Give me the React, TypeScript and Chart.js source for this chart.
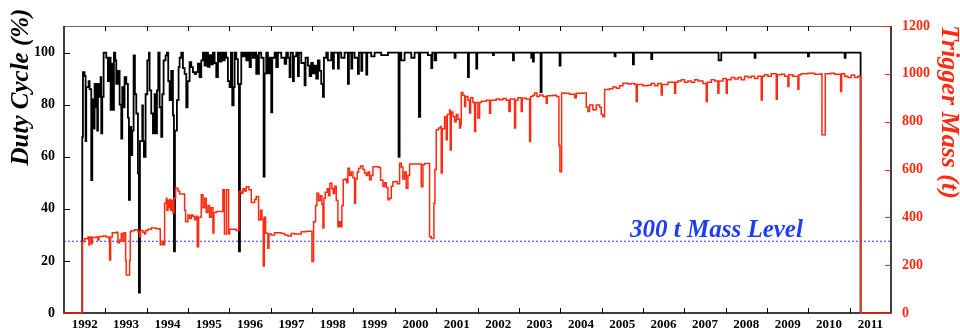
import React, { useEffect, useRef } from 'react';
import { Chart, registerables } from 'chart.js';

Chart.register(...registerables);

const FONT = '"Liberation Serif", "Times New Roman", serif';
const RED = '#ff2a10';
const BLUE = '#1f3cf8';

const yearLabels = [1992, 1993, 1994, 1995, 1996, 1997, 1998, 1999, 2000, 2001, 2002, 2003, 2004, 2005, 2006, 2007, 2008, 2009, 2010, 2011];
const yearTicks = [1993, 1994, 1995, 1996, 1997, 1998, 1999, 2000, 2001, 2002, 2003, 2004, 2005, 2006, 2007, 2008, 2009, 2010, 2011];
const dutyTicks = [0, 20, 40, 60, 80, 100];
const massTicks = [0, 200, 400, 600, 800, 1000, 1200];
const massLevel = 300;
const massLevelLabel = '300 t Mass Level';
const dutyTitle = 'Duty Cycle (%)';
const massTitle = 'Trigger Mass (t)';

// [year, duty cycle %]
const dutyCycle: [number, number][] = [
  [1992.0, 0], [1992.442, 67.6], [1992.458, 92.5], [1992.498, 91], [1992.522, 66], [1992.538, 86.7],
  [1992.595, 89], [1992.619, 86], [1992.659, 51], [1992.684, 82], [1992.724, 70.8], [1992.74, 88],
  [1992.78, 79], [1992.804, 70], [1992.821, 88], [1992.861, 83], [1992.885, 90.6], [1992.901, 69],
  [1992.925, 83], [1992.958, 100], [1993.022, 98], [1993.062, 89], [1993.103, 98], [1993.127, 78],
  [1993.151, 95.7], [1993.183, 78], [1993.208, 100], [1993.24, 97], [1993.264, 88], [1993.304, 93],
  [1993.345, 80], [1993.385, 67], [1993.409, 86.7], [1993.441, 79], [1993.465, 90.6], [1993.506, 88],
  [1993.546, 75], [1993.57, 43.4], [1993.595, 71.5], [1993.627, 60.6], [1993.651, 70], [1993.683, 98.9],
  [1993.715, 84], [1993.748, 76.6], [1993.788, 53.6], [1993.812, 7.8], [1993.836, 66], [1993.893, 79.7],
  [1993.909, 66], [1993.933, 60], [1993.973, 84], [1994.014, 97], [1994.054, 100], [1994.07, 85.5],
  [1994.11, 76.6], [1994.151, 69], [1994.191, 84], [1994.215, 69], [1994.248, 85.5], [1994.28, 100],
  [1994.312, 79], [1994.352, 67.6], [1994.376, 84], [1994.409, 97], [1994.457, 98.9], [1994.489, 100],
  [1994.521, 89], [1994.554, 81.7], [1994.594, 93], [1994.634, 75.9], [1994.659, 23.7], [1994.683, 70],
  [1994.731, 81.7], [1994.771, 94.4], [1994.796, 98], [1994.836, 100], [1994.876, 94], [1994.917, 91.8],
  [1994.957, 79], [1994.989, 89], [1995.037, 96.3], [1995.078, 94.4], [1995.118, 92.5], [1995.158, 91.8],
  [1995.199, 92.5], [1995.239, 95.7], [1995.279, 90.6], [1995.32, 97], [1995.36, 100], [1995.4, 95],
  [1995.44, 100], [1995.481, 94.5], [1995.521, 99], [1995.561, 95.5], [1995.602, 100], [1995.642, 96],
  [1995.682, 90.6], [1995.723, 100], [1995.763, 96.5], [1995.803, 100], [1995.843, 97], [1995.884, 100],
  [1995.924, 98], [1995.964, 89], [1996.005, 86.7], [1996.037, 100], [1996.069, 79.7], [1996.102, 86.7],
  [1996.126, 100], [1996.166, 97.5], [1996.206, 88], [1996.231, 23.7], [1996.255, 88], [1996.287, 100],
  [1996.327, 98.5], [1996.367, 100], [1996.408, 97], [1996.448, 100], [1996.488, 94.4], [1996.521, 100],
  [1996.569, 98], [1996.609, 100], [1996.649, 91.8], [1996.673, 99], [1996.69, 91.8], [1996.714, 100],
  [1996.77, 98], [1996.827, 52.4], [1996.851, 92], [1996.891, 100], [1996.931, 92], [1996.972, 98],
  [1997.012, 77], [1997.036, 98], [1997.093, 100], [1997.133, 94.4], [1997.173, 100], [1997.254, 98],
  [1997.335, 95.7], [1997.375, 100], [1997.415, 98], [1997.455, 90.6], [1997.48, 100], [1997.536, 89],
  [1997.56, 98.5], [1997.617, 100], [1997.657, 91], [1997.681, 100], [1997.738, 96], [1997.818, 87.4],
  [1997.842, 98], [1997.899, 95], [1997.939, 91], [1997.979, 96], [1998.02, 92], [1998.06, 95],
  [1998.1, 90], [1998.141, 97], [1998.181, 93], [1998.221, 88], [1998.262, 83], [1998.286, 98],
  [1998.342, 100], [1998.382, 97], [1998.463, 100], [1998.503, 93.8], [1998.527, 100], [1998.624, 93.8],
  [1998.648, 100], [1998.705, 98], [1998.786, 100], [1998.866, 88], [1998.89, 100], [1998.947, 93.8],
  [1998.971, 100], [1999.027, 98], [1999.108, 91.8], [1999.132, 100], [1999.189, 93], [1999.213, 100],
  [1999.31, 91.5], [1999.334, 100], [1999.43, 98.5], [1999.511, 100], [1999.672, 99], [1999.834, 100],
  [2000.091, 60], [2000.116, 100], [2000.156, 97], [2000.237, 100], [2000.398, 98], [2000.478, 100],
  [2000.583, 75.3], [2000.615, 100], [2000.801, 99], [2000.882, 94], [2000.906, 100], [2000.962, 97],
  [2001.002, 100], [2001.446, 98], [2001.47, 100], [2001.768, 90.6], [2001.793, 100], [2001.97, 93.8],
  [2001.994, 100], [2002.373, 99], [2002.397, 100], [2002.857, 97], [2002.881, 100], [2003.3, 98],
  [2003.324, 100], [2003.34, 96.5], [2003.364, 100], [2003.526, 84.8], [2003.55, 100], [2003.985, 95],
  [2004.009, 100], [2005.315, 98.5], [2005.339, 100], [2005.759, 95.5], [2005.783, 100], [2006.202, 97.5],
  [2006.226, 100], [2007.831, 97], [2007.895, 100], [2008.701, 98], [2008.725, 100], [2009.991, 98.5],
  [2010.015, 100], [2010.878, 98], [2010.902, 100], [2011.265, 0], [2012.0, 0],
];

// [year, trigger mass in tonnes]
const triggerMass: [number, number][] = [
  [1992.0, 0], [1992.442, 298], [1992.498, 310], [1992.579, 318], [1992.603, 284], [1992.619, 318],
  [1992.659, 290], [1992.684, 316], [1992.78, 318], [1992.821, 305], [1992.845, 320], [1992.942, 322],
  [1993.022, 318], [1993.087, 310], [1993.103, 222], [1993.127, 318], [1993.167, 336], [1993.264, 338],
  [1993.304, 294], [1993.345, 305], [1993.385, 332], [1993.425, 300], [1993.449, 336], [1993.49, 220],
  [1993.506, 159], [1993.587, 220], [1993.603, 340], [1993.627, 344], [1993.707, 348], [1993.788, 340],
  [1993.828, 319], [1993.852, 345], [1993.909, 338], [1993.949, 330], [1993.973, 345], [1994.03, 350],
  [1994.11, 355], [1994.231, 352], [1994.312, 350], [1994.328, 285], [1994.376, 300], [1994.409, 285],
  [1994.433, 459], [1994.473, 480], [1994.489, 430], [1994.513, 470], [1994.538, 440], [1994.554, 475],
  [1994.578, 430], [1994.602, 470], [1994.634, 417], [1994.659, 480], [1994.699, 522], [1994.755, 510],
  [1994.796, 498], [1994.917, 430], [1994.941, 382], [1994.997, 410], [1995.037, 395], [1995.078, 410],
  [1995.118, 403], [1995.158, 390], [1995.199, 405], [1995.223, 277], [1995.255, 400], [1995.32, 494],
  [1995.36, 440], [1995.4, 480], [1995.44, 420], [1995.481, 450], [1995.521, 400], [1995.561, 440],
  [1995.602, 335], [1995.626, 420], [1995.682, 424], [1995.843, 515], [1995.88, 330], [1995.93, 515],
  [1995.98, 330], [1996.005, 350], [1996.166, 345], [1996.231, 508],
  [1996.287, 500], [1996.327, 520], [1996.367, 510], [1996.408, 528], [1996.472, 515], [1996.529, 462],
  [1996.609, 475], [1996.649, 487], [1996.706, 389], [1996.754, 430], [1996.786, 392], [1996.819, 197],
  [1996.843, 400], [1996.875, 333], [1996.931, 271], [1996.956, 330], [1997.012, 326], [1997.093, 336],
  [1997.254, 332], [1997.335, 326], [1997.415, 322], [1997.496, 332], [1997.576, 330], [1997.738, 340],
  [1997.858, 342], [1997.996, 215], [1998.036, 382], [1998.084, 450], [1998.116, 501], [1998.157, 470],
  [1998.197, 490], [1998.237, 455], [1998.262, 355], [1998.286, 480], [1998.318, 505], [1998.366, 520],
  [1998.399, 490], [1998.431, 543], [1998.479, 520], [1998.511, 500], [1998.544, 530], [1998.584, 470],
  [1998.624, 361], [1998.657, 382], [1998.689, 361], [1998.721, 450], [1998.753, 557], [1998.802, 560],
  [1998.834, 545], [1998.866, 605], [1998.906, 575], [1998.947, 590], [1998.987, 565], [1999.027, 459],
  [1999.051, 560], [1999.092, 590], [1999.124, 605], [1999.172, 615], [1999.229, 600], [1999.269, 585],
  [1999.31, 575], [1999.35, 590], [1999.39, 557], [1999.43, 575], [1999.471, 612], [1999.608, 608],
  [1999.656, 555], [1999.713, 529], [1999.753, 545], [1999.793, 525], [1999.834, 473], [1999.874, 480],
  [1999.914, 530], [1999.954, 549], [2000.011, 550], [2000.059, 540], [2000.116, 626], [2000.156, 610],
  [2000.196, 560], [2000.237, 590], [2000.277, 522], [2000.317, 575], [2000.358, 623], [2000.64, 528],
  [2000.68, 620], [2000.72, 625], [2000.841, 319], [2000.882, 312], [2000.946, 459], [2000.97, 600],
  [2001.002, 766], [2001.059, 773], [2001.107, 780], [2001.123, 585], [2001.147, 770], [2001.204, 821],
  [2001.244, 724], [2001.268, 830], [2001.325, 849], [2001.341, 682], [2001.365, 840], [2001.406, 822],
  [2001.446, 800], [2001.486, 830], [2001.527, 810], [2001.567, 773], [2001.591, 790], [2001.607, 922],
  [2001.648, 910], [2001.688, 863], [2001.712, 905], [2001.768, 890], [2001.809, 836], [2001.833, 900],
  [2001.889, 880], [2001.93, 759], [2001.954, 880], [2002.01, 815], [2002.05, 880], [2002.091, 885],
  [2002.212, 890], [2002.292, 835], [2002.317, 890], [2002.454, 895], [2002.534, 892], [2002.615, 897],
  [2002.695, 890], [2002.76, 843], [2002.792, 895], [2002.897, 773], [2002.921, 890], [2002.978, 900],
  [2003.058, 843], [2003.082, 898], [2003.179, 895], [2003.26, 717], [2003.284, 905], [2003.34, 910],
  [2003.381, 920], [2003.437, 905], [2003.502, 912], [2003.582, 905], [2003.663, 877], [2003.687, 908],
  [2003.824, 910], [2003.905, 905], [2003.969, 700], [2003.993, 591], [2004.034, 920], [2004.107, 919],
  [2004.227, 915], [2004.348, 900], [2004.388, 919], [2004.55, 920], [2004.63, 860], [2004.67, 843],
  [2004.711, 870], [2004.791, 850], [2004.872, 870], [2004.953, 860], [2004.993, 830], [2005.033, 821],
  [2005.073, 935], [2005.194, 938], [2005.275, 945], [2005.356, 940], [2005.436, 950], [2005.517, 961],
  [2005.638, 958], [2005.718, 960], [2005.799, 955], [2005.839, 884], [2005.863, 955], [2006.0, 950],
  [2006.122, 952], [2006.202, 960], [2006.283, 950], [2006.363, 960], [2006.444, 912], [2006.468, 955],
  [2006.605, 965], [2006.767, 919], [2006.791, 965], [2006.847, 970], [2006.928, 975], [2007.008, 965],
  [2007.089, 970], [2007.17, 965], [2007.25, 975], [2007.331, 970], [2007.452, 960], [2007.532, 884],
  [2007.557, 965], [2007.653, 975], [2007.734, 970], [2007.814, 919], [2007.839, 970], [2007.935, 980],
  [2008.016, 919], [2008.04, 975], [2008.137, 985], [2008.218, 978], [2008.298, 985], [2008.379, 975],
  [2008.459, 990], [2008.54, 985], [2008.62, 990], [2008.701, 980], [2008.782, 990], [2008.862, 891],
  [2008.887, 990], [2008.943, 996], [2009.024, 990], [2009.104, 1000], [2009.225, 894], [2009.249, 996],
  [2009.346, 998], [2009.427, 990], [2009.507, 947], [2009.531, 996], [2009.628, 990], [2009.749, 936],
  [2009.773, 996], [2009.83, 1000], [2009.991, 1002], [2010.152, 998], [2010.313, 1000], [2010.33, 745],
  [2010.41, 1000], [2010.555, 1002], [2010.636, 998], [2010.781, 926], [2010.805, 1000], [2010.878, 990],
  [2010.958, 985], [2011.039, 995], [2011.119, 985], [2011.2, 990], [2011.265, 0], [2012.0, 0],
];

const frameAndTicks = {
  id: 'frameAndTicks',
  beforeDatasetsDraw(chart: any) {
    const { ctx, chartArea: a, scales } = chart;
    ctx.save();
    ctx.strokeStyle = '#666';
    ctx.lineWidth = 1;
    ctx.beginPath();
    ctx.moveTo(a.left, a.top + 0.5);
    ctx.lineTo(a.right, a.top + 0.5);
    ctx.stroke();
    ctx.strokeStyle = '#000';
    ctx.lineWidth = 1.5;
    ctx.beginPath();
    ctx.moveTo(a.left, a.top);
    ctx.lineTo(a.left, a.bottom);
    ctx.lineTo(a.right, a.bottom);
    ctx.lineTo(a.right, a.top);
    ctx.stroke();
    ctx.lineWidth = 1;
    ctx.beginPath();
    for (const yr of yearTicks) {
      const px = Math.round(scales.x.getPixelForValue(yr)) + 0.5;
      ctx.moveTo(px, a.bottom);
      ctx.lineTo(px, a.bottom - 5);
      ctx.moveTo(px, a.top);
      ctx.lineTo(px, a.top + 5);
    }
    for (const v of dutyTicks) {
      const py = Math.round(scales.y.getPixelForValue(v)) + 0.5;
      ctx.moveTo(a.left, py);
      ctx.lineTo(a.left + 6, py);
    }
    ctx.stroke();
    ctx.strokeStyle = RED;
    ctx.beginPath();
    for (const v of massTicks) {
      const py = Math.round(scales.y1.getPixelForValue(v)) + 0.5;
      ctx.moveTo(a.right - 6, py);
      ctx.lineTo(a.right, py);
    }
    ctx.stroke();
    ctx.restore();
  },
};

const texts = {
  id: 'texts',
  afterDraw(chart: any) {
    const { ctx, scales } = chart;
    ctx.save();
    ctx.textAlign = 'center';
    ctx.textBaseline = 'middle';
    ctx.font = `italic bold 25px ${FONT}`;
    ctx.fillStyle = '#000';
    ctx.translate(22, 87);
    ctx.rotate(-Math.PI / 2);
    ctx.fillText(dutyTitle, 0, 0);
    ctx.restore();

    ctx.save();
    ctx.textAlign = 'center';
    ctx.textBaseline = 'middle';
    ctx.font = `italic bold 26px ${FONT}`;
    ctx.fillStyle = RED;
    ctx.translate(949, 112);
    ctx.rotate(Math.PI / 2);
    ctx.fillText(massTitle, 0, 0);
    ctx.restore();

    ctx.save();
    ctx.textAlign = 'left';
    ctx.textBaseline = 'alphabetic';
    ctx.font = `italic bold 25px ${FONT}`;
    ctx.fillStyle = BLUE;
    ctx.fillText(massLevelLabel, scales.x.getPixelForValue(2005.688), scales.y1.getPixelForValue(massLevel) - 4.5);
    ctx.restore();
  },
};

const noPad = (axis: any) => {
  axis.paddingTop = 0;
  axis.paddingBottom = 0;
  axis.paddingLeft = 0;
  axis.paddingRight = 0;
};

export default function App() {
  const ref = useRef<HTMLCanvasElement>(null);
  useEffect(() => {
    const tickFont = { family: FONT, size: 14, weight: 'bold' as const };
    const chart = new Chart(ref.current as HTMLCanvasElement, {
      type: 'line',
      data: {
        datasets: [
          {
            label: 'Trigger Mass',
            data: triggerMass.map(([x, y]) => ({ x, y })),
            yAxisID: 'y1',
            borderColor: RED,
            borderWidth: 1.5,
            stepped: 'before',
            pointRadius: 0,
            fill: false,
            order: 0,
            clip: 3,
          },
          {
            label: 'Duty Cycle',
            data: dutyCycle.map(([x, y]) => ({ x, y })),
            yAxisID: 'y',
            borderColor: '#000',
            borderWidth: 1.8,
            stepped: 'before',
            pointRadius: 0,
            fill: false,
            order: 1,
          },
          {
            label: 'Mass Level',
            data: [{ x: yearLabels[0], y: massLevel }, { x: yearLabels[yearLabels.length - 1] + 1, y: massLevel }],
            yAxisID: 'y1',
            borderColor: BLUE,
            borderWidth: 1,
            borderDash: [2, 2],
            pointRadius: 0,
            fill: false,
            order: 2,
          },
        ] as any,
      },
      options: {
        responsive: false,
        maintainAspectRatio: false,
        animation: false,
        layout: { padding: { top: 26, left: 0, right: 0, bottom: 0 } },
        plugins: { legend: { display: false }, tooltip: { enabled: false } },
        scales: {
          x: {
            type: 'linear',
            position: 'bottom',
            min: 1992,
            max: 2012,
            grid: { display: false, drawTicks: false },
            border: { display: false },
            afterBuildTicks: (axis: any) => {
              axis.ticks = yearLabels.map((y) => ({ value: y + 0.5 }));
            },
            afterFit: (axis: any) => {
              axis.height = 16;
              noPad(axis);
            },
            ticks: {
              autoSkip: false,
              maxRotation: 0,
              minRotation: 0,
              padding: 4,
              color: '#000',
              font: { family: FONT, size: 13, weight: 'bold' },
              callback: (_v: any, i: number) => String(yearLabels[i]),
            },
          },
          y: {
            type: 'linear',
            position: 'left',
            min: 0,
            max: 110.2,
            grid: { display: false, drawTicks: false },
            border: { display: false },
            afterBuildTicks: (axis: any) => {
              axis.ticks = dutyTicks.map((v) => ({ value: v }));
            },
            afterFit: (axis: any) => {
              axis.width = 64;
              noPad(axis);
            },
            ticks: { padding: 9, color: '#000', font: tickFont, callback: (v: any) => String(v) },
          },
          y1: {
            type: 'linear',
            position: 'right',
            min: 0,
            max: 1200,
            grid: { display: false, drawTicks: false },
            border: { display: false },
            afterBuildTicks: (axis: any) => {
              axis.ticks = massTicks.map((v) => ({ value: v }));
            },
            afterFit: (axis: any) => {
              axis.width = 69;
              noPad(axis);
            },
            ticks: { padding: 11, color: RED, font: tickFont, callback: (v: any) => String(v) },
          },
        },
      } as any,
      plugins: [frameAndTicks, texts],
    });
    return () => chart.destroy();
  }, []);
  return (
    <div style={{ position: 'absolute', left: 0, top: 0, width: 960, height: 329 }}>
      <canvas ref={ref} width={960} height={329} style={{ display: 'block' }} />
    </div>
  );
}
